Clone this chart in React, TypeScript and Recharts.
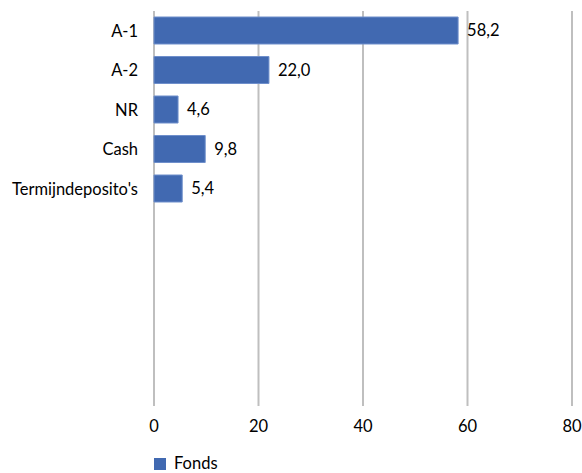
import React from 'react';
import { BarChart, Bar, XAxis, YAxis, CartesianGrid, LabelList, Legend } from 'recharts';

const categories = ['A-1', 'A-2', 'NR', 'Cash', "Termijndeposito's"];
const fondsValues = [58.2, 22.0, 4.6, 9.8, 5.4];
const emptySlots = ['_1', '_2', '_3', '_4', '_5'];
const xTicks = [0, 20, 40, 60, 80];
const seriesName = 'Fonds';

const data = [
  ...categories.map((name, i) => ({ name, fonds: fondsValues[i] })),
  ...emptySlots.map((name) => ({ name, fonds: null })),
];

const FONT = 'Lato, "Open Sans", sans-serif';
const FS = 16.5;
const BLUE = '#4169B1';

const fmt = (v: any) => (v == null ? '' : Number(v).toFixed(1).replace('.', ','));

const LegendContent = () => (
  <div style={{ position: 'relative', height: 27, width: 582 }}>
    <div style={{ position: 'absolute', left: 154, top: 12, width: 12, height: 12, background: BLUE }} />
    <div
      style={{
        position: 'absolute',
        left: 174,
        top: 7,
        fontFamily: FONT,
        fontSize: FS,
        lineHeight: '20px',
        color: '#000',
      }}
    >
      {seriesName}
    </div>
  </div>
);

export default function App() {
  return (
    <div style={{ position: 'absolute', left: 0, top: 0, width: 582, height: 473, background: '#fff' }}>
      <BarChart
        width={582}
        height={473}
        data={data}
        layout="vertical"
        margin={{ top: 11, right: 10, left: 0, bottom: 0 }}
      >
        <CartesianGrid horizontal={false} vertical={true} stroke="#BFBFBF" strokeWidth={2} />
        <XAxis
          type="number"
          domain={[0, 80]}
          ticks={xTicks}
          axisLine={false}
          tickLine={false}
          tickSize={0}
          tickMargin={14}
          height={40}
          tick={{ fill: '#000', fontSize: FS, fontFamily: FONT }}
        />
        <YAxis
          type="category"
          dataKey="name"
          width={154}
          axisLine={false}
          tickLine={false}
          tickSize={0}
          tickMargin={16}
          interval={0}
          tickFormatter={(v: string) => (v.startsWith('_') ? '' : v)}
          tick={{ fill: '#000', fontSize: FS, fontFamily: FONT }}
        />
        <Legend verticalAlign="bottom" align="left" content={<LegendContent />} wrapperStyle={{ left: 0, bottom: 0, height: 27 }} />
        <Bar dataKey="fonds" name={seriesName} fill={BLUE} stroke="#6F8FCB" strokeWidth={1} barSize={27} isAnimationActive={false}>
          <LabelList
            dataKey="fonds"
            position="right"
            offset={9}
            formatter={fmt}
            style={{ fill: '#000', fontSize: FS, fontFamily: FONT }}
          />
        </Bar>
      </BarChart>
    </div>
  );
}
